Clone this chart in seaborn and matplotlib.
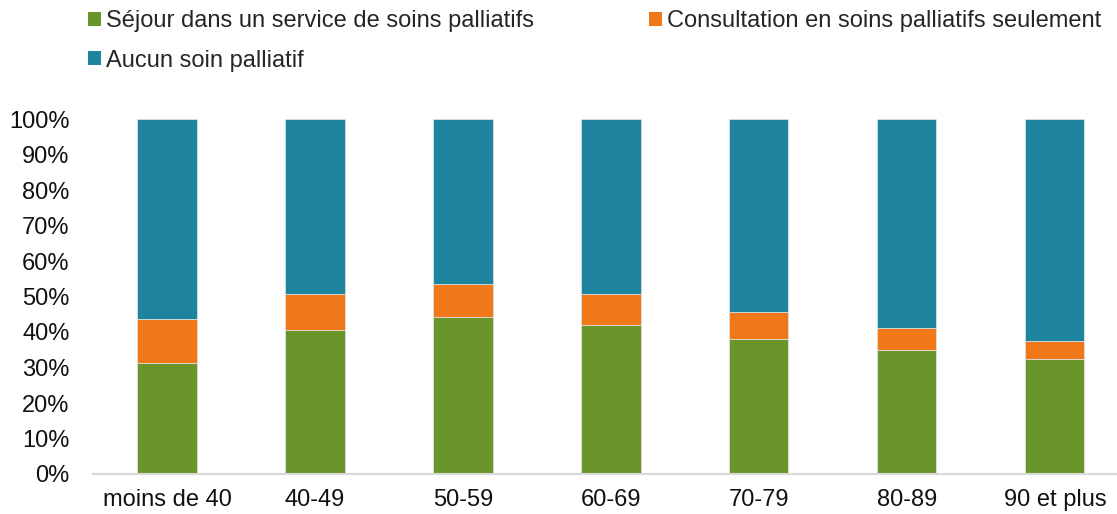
import numpy as np
import pandas as pd
import matplotlib
matplotlib.use("Agg")
import matplotlib.pyplot as plt
import seaborn as sns
from matplotlib.patches import Patch

sns.set_theme(style="white")
plt.rcParams["font.family"] = ["Liberation Sans", "DejaVu Sans"]

age_groups = ["moins de 40", "40-49", "50-59", "60-69", "70-79", "80-89", "90 et plus"]
sejour = [31.2, 40.5, 44.1, 42.1, 37.9, 34.8, 32.3]
consultation = [12.4, 10.2, 9.5, 8.6, 7.7, 6.3, 5.2]
series_names = ["Séjour dans un service de soins palliatifs",
                "Consultation en soins palliatifs seulement",
                "Aucun soin palliatif"]
colors = ["#6A952A", "#F07819", "#1E839D"]

df = pd.DataFrame({"age": age_groups, "sejour": sejour, "consultation": consultation})
df["aucun"] = 100 - df["sejour"] - df["consultation"]

fig = plt.figure(figsize=(11.17, 5.14), dpi=100)
ax = fig.add_axes([93 / 1117, (514 - 474) / 514, 1 - 93 / 1117, 355 / 514])

bottom = np.zeros(len(df))
for col, color in zip(["sejour", "consultation", "aucun"], colors):
    sns.barplot(data=df, x="age", y=col, color=color, width=0.4,
                bottom=bottom, ax=ax, saturation=1, edgecolor="#dddddd", linewidth=0.6)
    bottom = bottom + df[col].values

ax.set_ylim(0, 100)
ax.set_xlim(-0.5, 6.42)
ax.set_yticks(np.arange(0, 101, 10))
ax.set_yticklabels([f"{v}%" for v in range(0, 101, 10)])
ax.set_xlabel("")
ax.set_ylabel("")
ax.tick_params(axis="both", labelsize=17, length=0, colors="#111111")
ax.tick_params(axis="x", pad=11)
ax.tick_params(axis="y", pad=17)
for s in ["top", "right", "left"]:
    ax.spines[s].set_visible(False)
ax.spines["bottom"].set_color("#d9d9d9")
ax.spines["bottom"].set_linewidth(1.5)

handles = [Patch(facecolor=c, edgecolor="none") for c in colors]
order = [0, 2, 1]
fig.legend([handles[i] for i in order], [series_names[i] for i in order],
           loc="upper left", bbox_to_anchor=(88 / 1117, 1 - 10 / 514), ncol=2, frameon=False,
           fontsize=17, handlelength=0.55, handleheight=0.55, handletextpad=0.2,
           columnspacing=4.9, labelspacing=0.75, borderpad=0, borderaxespad=0)

fig.savefig("out.png", dpi=100)
